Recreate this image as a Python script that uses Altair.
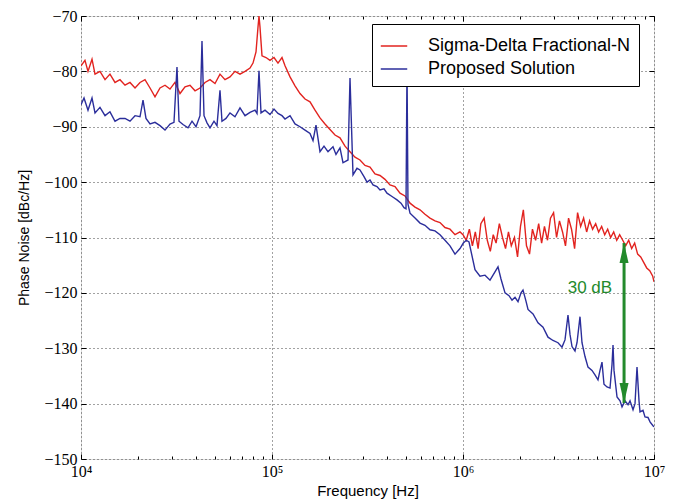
import altair as alt
import pandas as pd

# ---------------- data ----------------
red_freq = [
    1.000e4, 1.049e4, 1.088e4, 1.142e4, 1.184e4, 1.257e4, 1.336e4, 1.418e4, 1.507e4, 1.600e4,
    1.700e4, 1.805e4, 1.918e4, 2.037e4, 2.163e4, 2.298e4, 2.440e4, 2.592e4, 2.753e4, 2.924e4,
    3.105e4, 3.299e4, 3.504e4, 3.722e4, 3.954e4, 4.198e4, 4.459e4, 4.736e4, 5.030e4, 5.342e4,
    5.674e4, 6.026e4, 6.401e4, 6.799e4, 7.223e4, 7.670e4, 7.953e4, 8.246e4, 8.447e4, 8.549e4,
    8.653e4, 8.864e4, 9.303e4, 9.761e4, 1.0244e5, 1.0749e5, 1.1281e5, 1.1700e5, 1.2427e5, 1.3198e5,
    1.4018e5, 1.4890e5, 1.5813e5, 1.6795e5, 1.7835e5, 1.8945e5, 2.0122e5, 2.1371e5, 2.2699e5, 2.4110e5,
    2.5610e5, 2.7202e5, 2.8883e5, 3.0684e5, 3.2589e5, 3.4615e5, 3.6761e5, 3.9040e5, 4.1464e5, 4.4055e5,
    4.6797e5, 4.9700e5, 5.2790e5, 5.6077e5, 5.9560e5, 6.3240e5, 6.7172e5, 7.1339e5, 7.5774e5, 8.0484e5,
    8.5498e5, 9.0815e5, 9.6450e5,
    1.00e6, 1.04e6, 1.08e6, 1.12e6, 1.16e6, 1.20e6, 1.24e6, 1.29e6, 1.34e6, 1.39e6,
    1.44e6, 1.49e6, 1.55e6, 1.61e6, 1.67e6, 1.73e6, 1.79e6, 1.86e6, 1.93e6, 2.00e6,
    2.07e6, 2.15e6, 2.23e6, 2.31e6, 2.40e6, 2.49e6, 2.58e6, 2.67e6, 2.77e6, 2.87e6,
    2.98e6, 3.09e6, 3.20e6, 3.32e6, 3.44e6, 3.57e6, 3.70e6, 3.84e6, 3.98e6, 4.13e6,
    4.28e6, 4.44e6, 4.60e6, 4.77e6, 4.95e6, 5.13e6, 5.32e6, 5.52e6, 5.72e6, 5.93e6,
    6.15e6, 6.38e6, 6.61e6, 6.86e6, 7.11e6, 7.37e6, 7.64e6, 7.92e6, 8.21e6, 8.52e6,
    8.83e6, 9.16e6, 9.50e6, 9.85e6, 1.00e7,
]
red_db = [
    -79, -78, -80, -77.8, -80.5, -80, -81.5, -80.5, -82, -81.5,
    -82.5, -82, -83, -82, -81.5, -83, -84.6, -83, -82.5, -83.2,
    -82, -84, -82.8, -82.5, -83.5, -83, -82, -81.5, -82.2, -80.5,
    -81.5, -81, -80, -80.5, -80, -79.4, -78.5, -76.5, -72, -70,
    -72, -77.2, -77.5, -78, -77.5, -78.5, -77.5, -79, -81, -82.6,
    -84, -85, -85.5, -87, -88.4, -89.5, -90.5, -91.5, -92, -93.5,
    -94.5, -95.5, -96, -97, -97.3, -98.5, -98.8, -99.5, -100.5, -100.8,
    -102, -102.5, -103.8, -104.5, -105, -105.8, -106.5, -107, -107.3, -108.2,
    -108.5, -109.5, -109,
    -109.5, -110.5, -108.5, -111.5, -109, -112, -107.5, -106.5, -110.5, -112.5,
    -109.5, -111, -107.5, -110, -112, -109, -111.5, -110, -113.5, -108,
    -105, -111.5, -113, -108.5, -110.5, -107.5, -111, -108, -110.5, -106.5,
    -105.5, -110, -107, -109, -111.5, -106.5, -108.5, -112, -105.5, -108,
    -106.5, -109, -107, -108.5, -107.5, -109, -108, -109.5, -108.5, -110,
    -109, -110.5, -109.5, -110.5, -111.5, -110.5, -112, -111, -113, -113.5,
    -114.5, -115.5, -116, -117, -118,
]

blue_freq = [
    1.000e4, 1.037e4, 1.088e4, 1.142e4, 1.184e4, 1.257e4, 1.336e4, 1.418e4, 1.507e4, 1.600e4,
    1.700e4, 1.805e4, 1.918e4, 2.037e4, 2.112e4, 2.189e4, 2.298e4, 2.440e4, 2.592e4, 2.753e4,
    2.924e4, 3.068e4, 3.181e4, 3.259e4, 3.420e4, 3.633e4, 3.813e4, 4.001e4, 4.198e4, 4.300e4,
    4.406e4, 4.568e4, 4.736e4, 4.970e4, 5.152e4, 5.342e4, 5.472e4, 5.743e4, 6.026e4, 6.401e4,
    6.799e4, 7.223e4, 7.670e4, 8.147e4, 8.347e4, 8.549e4, 8.758e4, 9.192e4, 9.761e4, 1.0244e5,
    1.0749e5, 1.1281e5, 1.1700e5, 1.2427e5, 1.3198e5, 1.4018e5, 1.4890e5, 1.5813e5, 1.6395e5, 1.6998e5,
    1.7835e5, 1.8718e5, 1.9642e5, 2.0862e5, 2.1630e5, 2.2699e5, 2.3535e5, 2.5000e5, 2.5610e5, 2.6553e5,
    2.786e5, 2.8883e5, 3.032e5, 3.1434e5, 3.2589e5, 3.3789e5, 3.545e5, 3.6761e5, 3.858e5, 4.0004e5,
    4.249e5, 4.5131e5, 4.736e5, 4.910e5, 5.030e5, 5.0915e5, 5.152e5, 5.2790e5, 5.6077e5, 5.9560e5,
    6.3240e5, 6.7172e5, 7.1339e5, 7.5774e5, 8.0484e5, 8.5498e5, 9.0815e5, 9.6450e5, 1.004e6, 1.041e6,
    1.0749e6, 1.1556e6, 1.2274e6, 1.3038e6, 1.3850e6, 1.4706e6, 1.5248e6, 1.581e6, 1.6596e6, 1.741e6,
    1.8055e6, 1.8723e6, 1.9410e6, 2.0125e6, 2.0614e6, 2.137e6, 2.1895e6, 2.326e6, 2.4699e6, 2.624e6,
    2.7861e6, 2.960e6, 3.1434e6, 3.2986e6, 3.4198e6, 3.5458e6, 3.6325e6, 3.7213e6, 3.8583e6, 3.9526e6,
    4.0981e6, 4.198e6, 4.3527e6, 4.5133e6, 4.736e6, 4.9101e6, 5.0906e6, 5.2153e6, 5.3421e6, 5.472e6,
    5.674e6, 5.8845e6, 6.026e6, 6.1013e6, 6.175e6, 6.4032e6, 6.6386e6, 6.8008e6, 7.0511e6, 7.3109e6,
    7.4888e6, 7.7652e6, 7.9538e6, 8.1479e6, 8.347e6, 8.4473e6, 8.758e6, 8.9709e6, 9.303e6, 9.5301e6,
    9.8809e6, 1.0e7,
]
blue_db = [
    -86, -84.8, -87, -84.8, -87.5, -86.5, -88, -87.3, -89, -88.5,
    -88.5, -89, -88, -88.2, -85.2, -88.5, -89.5, -89.2, -89.8, -90.6,
    -89.5, -89.2, -79.2, -89, -89.6, -90.2, -89, -90, -88, -74.5,
    -88, -89.3, -90.2, -89, -89.8, -83.4, -89, -88.5, -87.5, -88.2,
    -86.6, -88, -87.4, -87, -87.6, -79.9, -87.5, -87, -87.8, -86.8,
    -87.6, -88, -88.6, -88, -89.5, -90, -90.6, -91.2, -92.5, -89.7,
    -94.5, -93.5, -94.5, -93.6, -95, -93.8, -96.5, -96, -81.2, -98.7,
    -97.5, -97.8, -99, -100, -99.6, -100.5, -100.8, -101.4, -101.2, -102,
    -102.6, -103.2, -103.8, -104.6, -104.8, -79, -104, -105.6, -106.5, -107.4,
    -107.8, -108.6, -108.8, -109.5, -110.5, -111.5, -113, -112, -111, -110.5,
    -110.8, -115.8, -117, -116.8, -117.7, -116.2, -115.3, -117.5, -120, -120.5,
    -121.3, -120.8, -121.6, -120, -119.5, -121.5, -123, -123.8, -125.4, -126.2,
    -128, -128.6, -129, -129.8, -128.5, -124, -127.5, -129.7, -130.5, -129,
    -124.3, -129, -131.5, -133.4, -134, -134.8, -135.7, -134, -132.5, -136.5,
    -137, -137.2, -133, -129.4, -134, -138.8, -139.5, -140.6, -139.5, -140.2,
    -139.5, -141.1, -140, -133.4, -139.5, -141.5, -141.2, -142.4, -142.5, -143.3,
    -144, -144.2,
]

series_names = ["Sigma-Delta Fractional-N", "Proposed Solution"]
series_colors = ["#e2231f", "#2b2e9b"]

major_ticks = [1e4, 1e5, 1e6, 1e7]
minor_ticks = [2e4, 3e4, 4e4, 5e4, 6e4, 7e4, 8e4, 9e4,
               2e5, 3e5, 4e5, 5e5, 6e5, 7e5, 8e5, 9e5,
               2e6, 3e6, 4e6, 5e6, 6e6, 7e6, 8e6, 9e6]
y_ticks = [-150, -140, -130, -120, -110, -100, -90, -80, -70]

arrow_freq = [6.97e6]
arrow_top = [-111.0]
arrow_bottom = [-139.9]
note_freq = [4.62e6]
note_db = [-119.1]
note_text = ["30 dB"]

# ---------------- tables ----------------
lines = pd.DataFrame({
    "freq": red_freq + blue_freq,
    "db": red_db + blue_db,
    "series": [series_names[0]] * len(red_freq) + [series_names[1]] * len(blue_freq),
    "idx": list(range(len(red_freq) + len(blue_freq))),
})
arrow = pd.DataFrame({"freq": arrow_freq, "top": arrow_top, "bottom": arrow_bottom})
note = pd.DataFrame({"freq": note_freq, "db": note_db, "text": note_text})

xs = alt.Scale(type="log", domain=[1e4, 1e7], nice=False)
ys = alt.Scale(domain=[-150, -70], nice=False, zero=False)

GREEN = "#238a2c"


def tick_axis(orient, values, size):
    return alt.Axis(orient=orient, values=values, labels=False, grid=False, domain=False,
                    ticks=True, tickSize=size, offset=-size, tickColor="black",
                    tickWidth=1, title=None)


label_expr = ("datum.value == 10000 ? '10\u2074' : datum.value == 100000 ? '10\u2075' : "
              "datum.value == 1000000 ? '10\u2076' : '10\u2077'")

main_x = alt.Axis(orient="bottom", values=major_ticks, labelExpr=label_expr, grid=True,
                  gridDash=[1, 3], gridColor="#444444", gridWidth=1, ticks=False, tickSize=0,
                  domain=False, labelFont="Liberation Serif", labelFontSize=16, labelPadding=4,
                  labelFlush=False, labelColor="black", title="Frequency [Hz]",
                  titleFont="Liberation Sans", titleFontSize=15, titleFontWeight="normal",
                  titleColor="black", titlePadding=4)
main_y = alt.Axis(orient="left", values=y_ticks, format="d", grid=True, gridDash=[1, 3],
                  gridColor="#444444", gridWidth=1, ticks=False, tickSize=0, domain=False,
                  labelFont="Liberation Serif", labelFontSize=16, labelPadding=4,
                  labelFlush=False, labelColor="black", title="Phase Noise [dBc/Hz]",
                  titleFont="Liberation Sans", titleFontSize=14, titleFontWeight="normal",
                  titleColor="black", titlePadding=12)

line_layer = alt.Chart(lines).mark_line(strokeWidth=1.4, clip=True).encode(
    x=alt.X("freq:Q", scale=xs, axis=main_x),
    y=alt.Y("db:Q", scale=ys, axis=main_y),
    color=alt.Color("series:N",
                    scale=alt.Scale(domain=series_names, range=series_colors),
                    legend=alt.Legend(title=None, orient="none", legendX=291, legendY=8,
                                      symbolType="stroke", symbolSize=700,
                                      symbolStrokeWidth=1.5, labelFontSize=18,
                                      labelFont="Liberation Sans", labelColor="black",
                                      labelLimit=0, padding=8, rowPadding=0, labelOffset=20,
                                      strokeColor="black", fillColor="white")),
    order=alt.Order("idx:Q"),
)

shaft = alt.Chart(arrow).mark_rule(color=GREEN, strokeWidth=3).encode(
    x=alt.X("freq:Q", scale=xs, axis=tick_axis("top", major_ticks, 5)),
    y=alt.Y("top:Q", scale=ys, axis=tick_axis("right", y_ticks, 5)),
    y2="bottom:Q",
)

head_up = alt.Chart(arrow).mark_point(shape="M0,-1L0.45,1L-0.45,1Z", size=400, filled=True,
                                      color=GREEN, opacity=1, strokeWidth=0, yOffset=10).encode(
    x=alt.X("freq:Q", scale=xs, axis=tick_axis("bottom", major_ticks, 5)),
    y=alt.Y("top:Q", scale=ys, axis=tick_axis("left", y_ticks, 5)),
)

head_down = alt.Chart(arrow).mark_point(shape="M0,1L0.45,-1L-0.45,-1Z", size=400, filled=True,
                                        color=GREEN, opacity=1, strokeWidth=0, yOffset=-10).encode(
    x=alt.X("freq:Q", scale=xs, axis=tick_axis("bottom", minor_ticks, 3)),
    y=alt.Y("bottom:Q", scale=ys, axis=None),
)

label = alt.Chart(note).mark_text(font="Liberation Sans", fontSize=17, color=GREEN,
                                  align="center", baseline="middle").encode(
    x=alt.X("freq:Q", scale=xs, axis=tick_axis("top", minor_ticks, 3)),
    y=alt.Y("db:Q", scale=ys, axis=None),
    text="text:N",
)

chart = alt.layer(line_layer, shaft, head_up, head_down, label).resolve_axis(
    x="independent", y="independent"
).properties(
    width=573, height=443, autosize="none",
    padding={"left": 73, "top": 8, "right": 16, "bottom": 43},
).configure_view(stroke="black", strokeWidth=1.5).configure(background="white")

chart.save("out.html", embed_options={"renderer": "svg", "actions": False})
